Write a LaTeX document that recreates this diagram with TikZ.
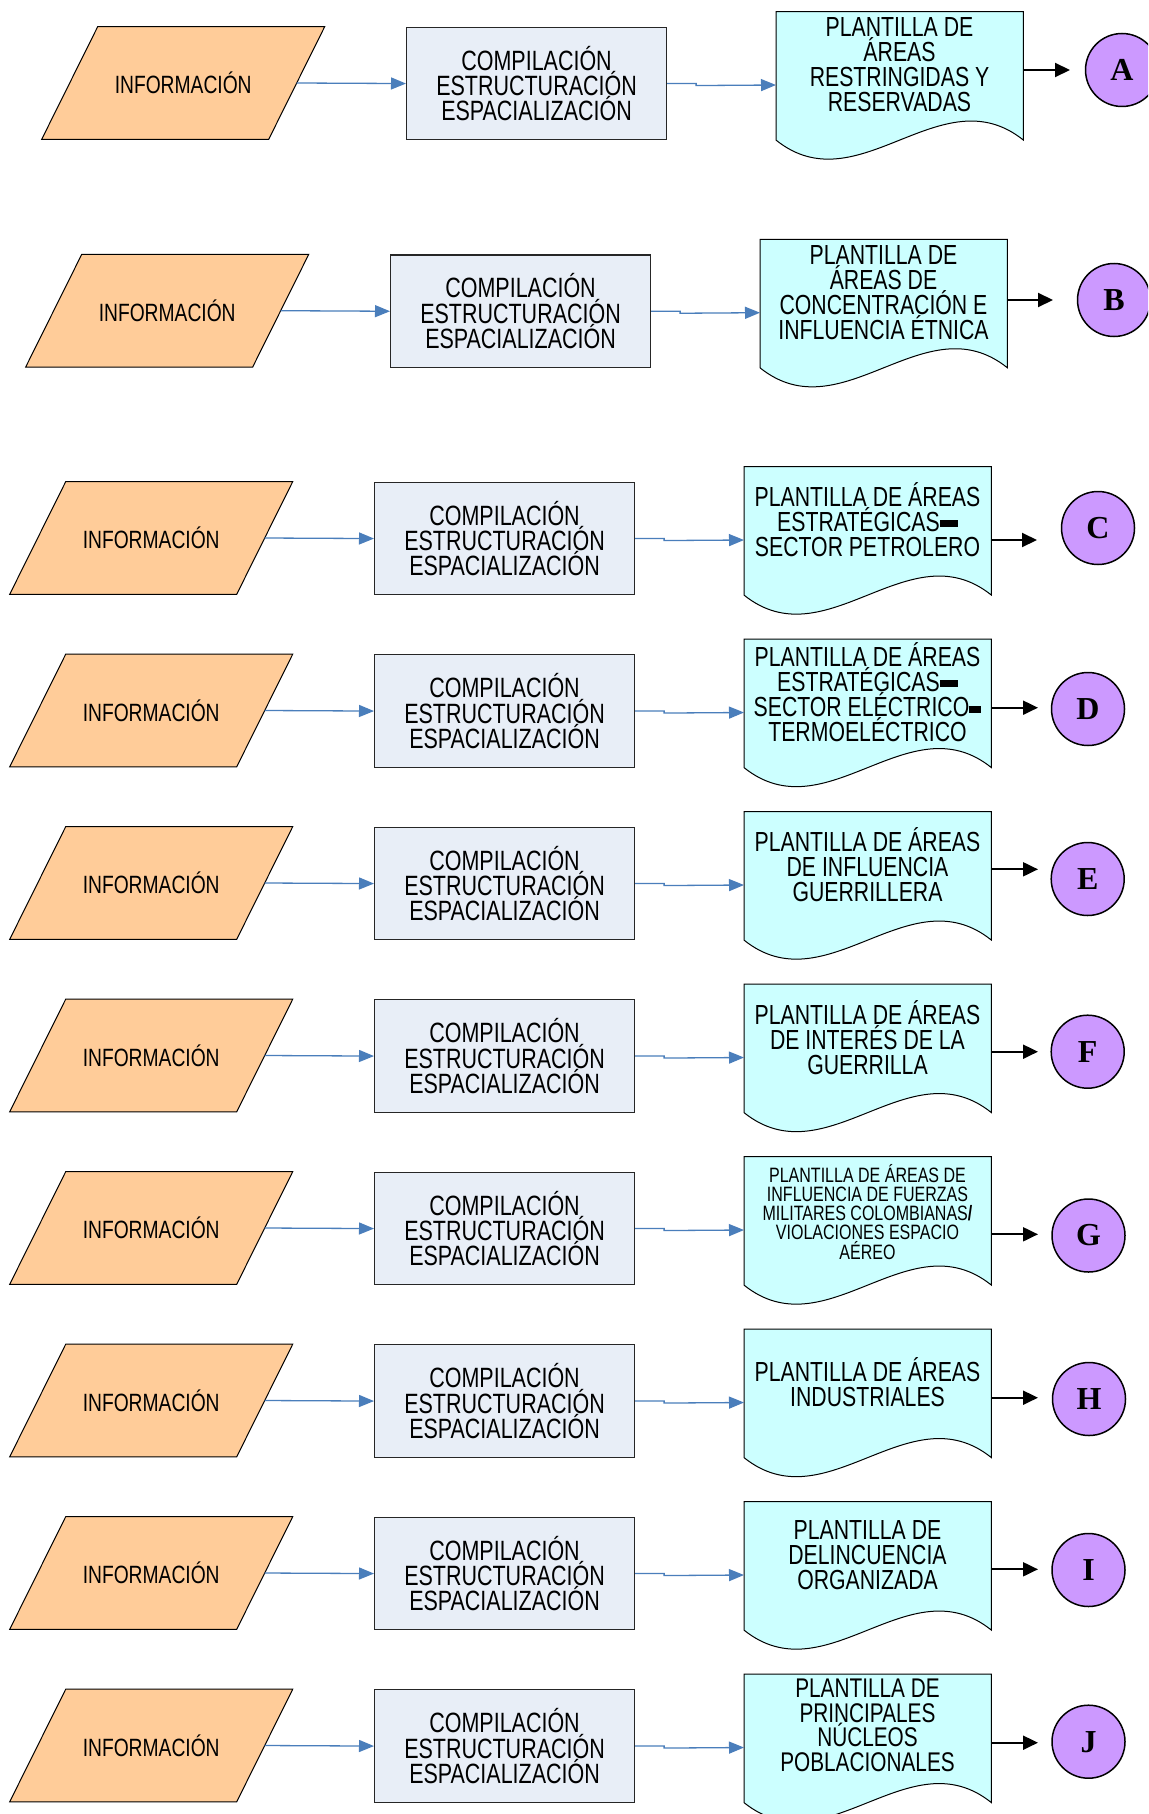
\documentclass[tikz,border=0pt]{standalone}
\usepackage{fontspec}
\setmainfont{Liberation Sans}
\newfontfamily\nar[FakeStretch=0.77]{Liberation Sans}
\newfontfamily\letterfont{Liberation Serif}
\usetikzlibrary{arrows.meta,calc}
\definecolor{paracol}{HTML}{FFCC99}
\definecolor{boxcol}{HTML}{E8EEF7}
\definecolor{doccol}{HTML}{CCFFFF}
\definecolor{circcol}{HTML}{CC99FF}
\definecolor{linkblue}{HTML}{4A7EBB}
\tikzset{
 para/.style={draw=black, fill=paracol, line width=1pt, line join=miter},
 paratext/.style={font=\nar\fontsize{25}{24}\selectfont, inner sep=0pt},
 procbox/.style={draw=black!85, fill=boxcol, line width=1.1pt, minimum width=260pt, minimum height=112.6pt, anchor=north west, align=center, inner sep=0pt, font=\nar\fontsize{27.9}{24}\selectfont},
 docframe/.style={minimum width=247pt, minimum height=128pt, anchor=north west, inner sep=0pt},
 docbody/.style={draw=black, fill=doccol, line width=1pt},
 doctext/.style={align=center, inner sep=0pt, font=\nar\fontsize{27.6}{25}\selectfont},
 bluelink/.style={draw=linkblue, line width=1.3pt, -{Triangle[length=15pt,width=12pt]}},
 blacklink/.style={draw=black, line width=2pt, -{Triangle[length=15pt,width=14pt]}},
 tag/.style={circle, draw=black, line width=1.5pt, fill=circcol, minimum size=73pt, inner sep=0pt, font=\letterfont\bfseries\fontsize{32}{32}\selectfont},
}
% #1 letter, #2 dx, #3 T (doc top), #4 text options, #5 text, #6 cx, #7 cy, #8 arrow y, #9 arrow end x
\newcommand\flowrow[9]{%
 \draw[para] ({97.7+(#2)},{#3+15}) -- ({324.7+(#2)},{#3+15}) -- ({268.7+(#2)},{#3+127.6}) -- ({41.7+(#2)},{#3+127.6}) -- cycle;
 \node[paratext] (p#1) at ({183.2+(#2)},{#3+71.3}) {INFORMACIÓN};
 \coordinate (pe#1) at ({296.7+(#2)},{#3+71.3});
 \node[procbox] (b#1) at ({406+(#2)},{#3+15}) {COMPILACIÓN\\ESTRUCTURACIÓN\\ESPACIALIZACIÓN};
 \node[docframe] (d#1) at ({776+(#2)},{#3}) {};
 \path[docbody] (d#1.north west) -- (d#1.north east) -- (d#1.south east)
   .. controls ($(d#1.south east)+(-82.3,-66)$) and ($(d#1.south west)+(82.3,66)$) .. (d#1.south west) -- cycle;
 \node[doctext,#4] (t#1) at ({899.5+(#2)},{#3+53}) {#5};
 \coordinate (in#1) at ({776+(#2)},{#3+73.3});
 \coordinate (out#1) at ({1023+(#2)},{#8});
 \coordinate (end#1) at ({#9},{#8});
 \node[tag] (c#1) at ({#6},{#7}) {#1};
 \draw[bluelink] (pe#1) -- (b#1.west);
 \draw[bluelink] (b#1.east) -- ++(29,0) -- ++(0,2) -- (in#1);
 \draw[blacklink] (out#1) -- (end#1);
}
\begin{document}
\begin{tikzpicture}[x=1pt,y=-1pt]
\useasboundingbox (0,0) rectangle (1148,1814);
\clip (0,0) rectangle (1148,1814);
\fill[white] (0,0) rectangle (1148,1814);
\flowrow{A}{0}{11.7}{}{PLANTILLA DE\\ÁREAS\\RESTRINGIDAS Y\\RESERVADAS}{1122}{70}{70}{1070}
\flowrow{B}{-16}{239.4}{}{PLANTILLA DE\\ÁREAS DE\\CONCENTRACIÓN E\\INFLUENCIA ÉTNICA}{1114}{300}{300}{1053}
\flowrow{C}{-32}{466.7}{}{PLANTILLA DE ÁREAS\\ESTRATÉGICAS\rule[5pt]{18pt}{7pt}\\SECTOR PETROLERO}{1098}{528}{540}{1037}
\flowrow{D}{-32}{639.2}{}{PLANTILLA DE ÁREAS\\ESTRATÉGICAS\rule[5pt]{18pt}{7pt}\\SECTOR ELÉCTRICO\rule[4pt]{12pt}{7pt}\\TERMOELÉCTRICO}{1088}{709}{707.7}{1038}
\flowrow{E}{-32}{811.7}{}{PLANTILLA DE ÁREAS\\DE INFLUENCIA\\GUERRILLERA}{1087.7}{879}{869.3}{1038}
\flowrow{F}{-32}{984.2}{}{PLANTILLA DE ÁREAS\\DE INTERÉS DE LA\\GUERRILLA}{1087.7}{1051.7}{1051.7}{1038}
\flowrow{G}{-32}{1156.7}{font=\nar\fontsize{20.8}{19.2}\selectfont, yshift=-2pt}{PLANTILLA DE ÁREAS DE\\INFLUENCIA DE FUERZAS\\MILITARES COLOMBIANAS{\bfseries /}\\VIOLACIONES ESPACIO\\AÉREO}{1088.5}{1235.5}{1234.3}{1038}
\flowrow{H}{-32}{1329.2}{}{PLANTILLA DE ÁREAS\\INDUSTRIALES}{1089}{1399}{1397.7}{1038}
\flowrow{I}{-32}{1501.7}{}{PLANTILLA DE\\DELINCUENCIA\\ORGANIZADA}{1088.5}{1570}{1569.3}{1038}
\flowrow{J}{-32}{1674.2}{font=\nar\fontsize{27}{24.5}\selectfont, yshift=2pt}{PLANTILLA DE\\PRINCIPALES\\NÚCLEOS\\POBLACIONALES}{1088.5}{1741.7}{1742.7}{1038}
\end{tikzpicture}
\end{document}
